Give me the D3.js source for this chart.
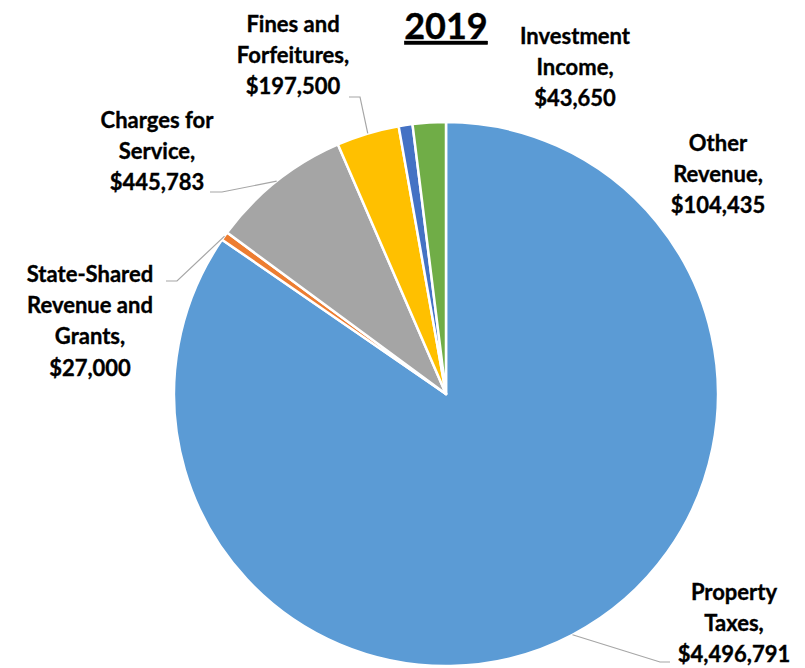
<!DOCTYPE html>
<html>
<head>
<meta charset="utf-8">
<script src="https://cdn.jsdelivr.net/npm/d3@7"></script>
<style>
  body { margin: 0; background: #fff; }
  text { font-family: Lato, "Open Sans", sans-serif; font-weight: bold; fill: #000; stroke: #000; stroke-width: 0.35px; }
</style>
</head>
<body>
<div id="chart"></div>
<script>
'use strict';

// revenue categories, clockwise from 12 o'clock
var categories = ["Property Taxes", "State-Shared Revenue and Grants", "Charges for Service",
                  "Fines and Forfeitures", "Investment Income", "Other Revenue"]
var values = [4496791, 27000, 445783, 197500, 43650, 104435]
var labelLines = [
    ["Property", "Taxes,"],
    ["State-Shared", "Revenue and", "Grants,"],
    ["Charges for", "Service,"],
    ["Fines and", "Forfeitures,"],
    ["Investment", "Income,"],
    ["Other", "Revenue,"]
]
var colors = ["#5B9BD5", "#ED7D31", "#A5A5A5", "#FFC000", "#4472C4", "#70AD47"]

// label layout: centre x, first baseline, leader elbow and end (null = no leader)
var labelPos = [
    {x: 734, y: 600, elbow: [660, 662], end: [670, 662]},
    {x: 90,  y: 282, elbow: [177, 281], end: [166, 281]},
    {x: 157, y: 128, elbow: [222, 192], end: [210, 192]},
    {x: 293, y: 32,  elbow: [360, 97],  end: [349, 97]},
    {x: 575, y: 44,  elbow: null, end: null},
    {x: 718, y: 151, elbow: null, end: null}
]

var w = 805, h = 668
var cx = 446, cy = 394, r = 272
var lineH = 31.2

function numberWithCommas(x) {
    return x.toString().replace(/\B(?=(\d{3})+(?!\d))/g, ",");
}

var svg = d3.select("#chart").append("svg").attr("width", w).attr("height", h)

var data = categories.map(function(c, i){ return {name: c, value: values[i], i: i} })

var pie = d3.pie().sort(null).value(function(d){ return d.value })
var arcs = pie(data)
var arc = d3.arc().innerRadius(0).outerRadius(r)

var g = svg.append("g").attr("transform", "translate(" + cx + "," + cy + ")")
g.selectAll("path")
    .data(arcs)
    .enter().append("path")
    .attr("d", arc)
    .attr("fill", function(d){ return colors[d.data.i] })
    .attr("stroke", "#fff")
    .attr("stroke-width", 2.5)
    .attr("stroke-linejoin", "round")

// leader lines
arcs.forEach(function(d){
    var p = labelPos[d.data.i]
    if (!p.elbow) return
    var mid = (d.startAngle + d.endAngle) / 2
    var sx = cx + r * Math.sin(mid), sy = cy - r * Math.cos(mid)
    svg.append("polyline")
        .attr("points", [[sx, sy], p.elbow, p.end].map(function(q){ return q.join(",") }).join(" "))
        .attr("fill", "none")
        .attr("stroke", "#A6A6A6")
        .attr("stroke-width", 1.2)
})

// labels
data.forEach(function(d){
    var p = labelPos[d.i]
    var lines = labelLines[d.i].concat(["$" + numberWithCommas(d.value)])
    var t = svg.append("text").attr("text-anchor", "middle").style("font-size", "22px")
    lines.forEach(function(l, k){
        t.append("tspan").attr("x", p.x).attr("y", p.y + k * lineH).text(l)
    })
})

// title
svg.append("text")
    .attr("x", 446).attr("y", 39)
    .attr("text-anchor", "middle")
    .style("font-size", "36px")
    .style("text-decoration", "underline")
    .text("2019")
</script>
</body>
</html>
